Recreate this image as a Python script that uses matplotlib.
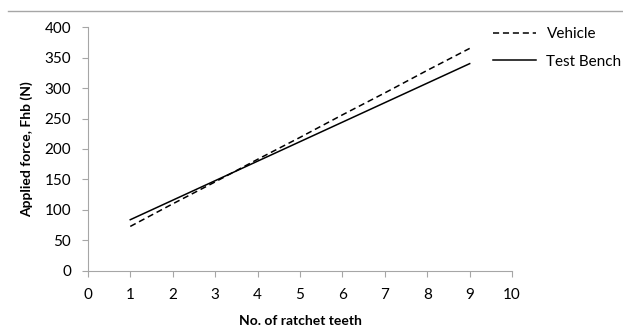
import numpy as np
import matplotlib.pyplot as plt
from matplotlib.lines import Line2D

plt.rcParams['font.family'] = ['Lato', 'DejaVu Sans']

teeth = [1, 2, 3, 4, 5, 6, 7, 8, 9]
vehicle = [73, 110, 146, 183, 219, 256, 292, 329, 365]
bench = [84, 116, 148, 180, 212, 244, 276, 308, 340]

fig = plt.figure(figsize=(6.23, 3.30), dpi=100)
ax = fig.add_axes([0.141, 0.179, 0.681, 0.739])

ax.plot(teeth, vehicle, '--', color='black', linewidth=1.1, dashes=(4, 2.5), label='Vehicle')
ax.plot(teeth, bench, '-', color='black', linewidth=1.1, label='Test Bench')

ax.set_xlim(0, 10)
ax.set_ylim(0, 400)
ax.set_xticks(range(0, 11))
ax.set_yticks(range(0, 401, 50))

for s in ['top', 'right']:
    ax.spines[s].set_visible(False)
for s in ['left', 'bottom']:
    ax.spines[s].set_color('#a6a6a6')
ax.tick_params(direction='out', length=4, color='#a6a6a6', labelsize=11, pad=8)

ax.set_xlabel('No. of ratchet teeth', fontsize=10, fontweight='bold', labelpad=10)
ax.set_ylabel('Applied force, Fhb (N)', fontsize=10, fontweight='bold', labelpad=8)

ax.legend(loc='upper left', bbox_to_anchor=(0.955, 1.0), frameon=False, fontsize=11,
          handlelength=2.8, handletextpad=0.7, labelspacing=0.9,
          borderpad=0, borderaxespad=0)

fig.add_artist(Line2D([8 / 623, 1], [1 - 11 / 330, 1 - 11 / 330], color='#a6a6a6', linewidth=1))

plt.savefig('out.png', dpi=100)
